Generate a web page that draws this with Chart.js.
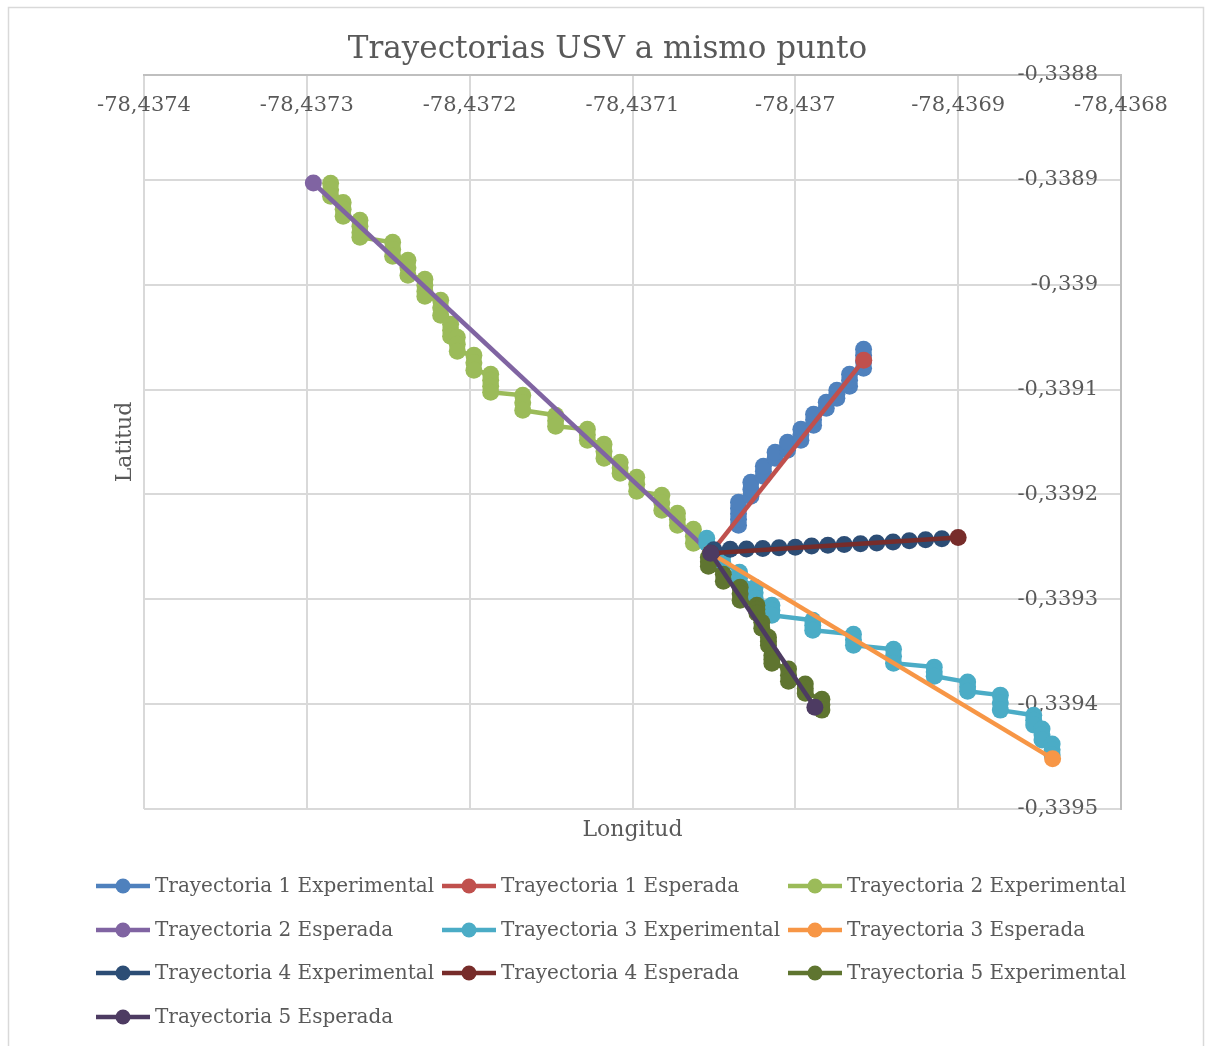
<!DOCTYPE html>
<html>
<head>
<meta charset="utf-8">
<title>Trayectorias USV a mismo punto</title>
<script src="https://cdn.jsdelivr.net/npm/chart.js@4.4.1/dist/chart.umd.min.js"></script>
<style>
  html, body { margin: 0; padding: 0; background: #fff; }
  #wrap { width: 1211px; height: 1046px; }
</style>
</head>
<body>
<div id="wrap"><canvas id="trayectorias" width="1211" height="1046"></canvas></div>
<script>
// Puntos [longitud, latitud] de cada trayectoria
const t1Experimental = [
  [-78.4370349, -0.3392294], [-78.4370349, -0.3392237], [-78.4370349, -0.3392184], [-78.4370349, -0.3392132], [-78.4370349, -0.3392074],
  [-78.4370273, -0.3392017], [-78.4370273, -0.3391951], [-78.4370273, -0.3391884],
  [-78.4370196, -0.3391827], [-78.4370196, -0.3391779], [-78.4370196, -0.3391731],
  [-78.4370124, -0.3391655], [-78.4370124, -0.3391598],
  [-78.4370048, -0.3391579], [-78.4370048, -0.3391541], [-78.4370048, -0.3391502],
  [-78.4369966, -0.3391483], [-78.4369966, -0.3391431], [-78.4369966, -0.3391379],
  [-78.4369888, -0.3391340], [-78.4369888, -0.3391288], [-78.4369888, -0.3391236],
  [-78.4369810, -0.3391178], [-78.4369810, -0.3391121],
  [-78.4369745, -0.3391083], [-78.4369745, -0.3391045], [-78.4369745, -0.3391007],
  [-78.4369667, -0.3390969], [-78.4369667, -0.3390911], [-78.4369667, -0.3390854],
  [-78.4369581, -0.3390797], [-78.4369581, -0.3390735], [-78.4369581, -0.3390673], [-78.4369581, -0.3390616]
];
const t1Esperada = [[-78.437052, -0.339256], [-78.436958, -0.339072]];

const t2Experimental = [
  [-78.4372854, -0.3389033], [-78.4372854, -0.3389095], [-78.4372854, -0.3389157],
  [-78.4372777, -0.3389215], [-78.4372777, -0.3389281], [-78.4372777, -0.3389348],
  [-78.4372674, -0.3389386], [-78.4372674, -0.3389443], [-78.4372674, -0.3389501], [-78.4372674, -0.3389548],
  [-78.4372473, -0.3389596], [-78.4372473, -0.3389663], [-78.4372473, -0.3389729],
  [-78.4372379, -0.3389767], [-78.4372379, -0.3389839], [-78.4372379, -0.3389910],
  [-78.4372275, -0.3389949], [-78.4372275, -0.3390006], [-78.4372275, -0.3390063], [-78.4372275, -0.3390111],
  [-78.4372178, -0.3390149], [-78.4372178, -0.3390220], [-78.4372178, -0.3390292],
  [-78.4372117, -0.3390378], [-78.4372117, -0.3390435], [-78.4372117, -0.3390492],
  [-78.4372076, -0.3390501], [-78.4372076, -0.3390568], [-78.4372076, -0.3390635],
  [-78.4371974, -0.3390673], [-78.4371974, -0.3390745], [-78.4371974, -0.3390816],
  [-78.4371871, -0.3390854], [-78.4371871, -0.3390911], [-78.4371871, -0.3390969], [-78.4371871, -0.3391026],
  [-78.4371674, -0.3391054], [-78.4371674, -0.3391126], [-78.4371674, -0.3391197],
  [-78.4371472, -0.3391245], [-78.4371472, -0.3391298], [-78.4371472, -0.3391350],
  [-78.4371277, -0.3391379], [-78.4371277, -0.3391431], [-78.4371277, -0.3391483],
  [-78.4371175, -0.3391522], [-78.4371175, -0.3391588], [-78.4371175, -0.3391655],
  [-78.4371076, -0.3391693], [-78.4371076, -0.3391746], [-78.4371076, -0.3391798],
  [-78.4370974, -0.3391836], [-78.4370974, -0.3391903], [-78.4370974, -0.3391970],
  [-78.4370820, -0.3392008], [-78.4370820, -0.3392079], [-78.4370820, -0.3392151],
  [-78.4370724, -0.3392179], [-78.4370724, -0.3392237], [-78.4370724, -0.3392294],
  [-78.4370626, -0.3392332], [-78.4370626, -0.3392399], [-78.4370626, -0.3392465]
];
const t2Esperada = [[-78.437296, -0.338903], [-78.437052, -0.339256]];

const t3Experimental = [
  [-78.4370544, -0.3392418], [-78.4370544, -0.3392465],
  [-78.4370446, -0.3392589], [-78.4370446, -0.3392646],
  [-78.4370343, -0.3392742], [-78.4370343, -0.3392799],
  [-78.4370247, -0.3392885], [-78.4370247, -0.3392937], [-78.4370247, -0.3392990],
  [-78.4370144, -0.3393056], [-78.4370144, -0.3393104], [-78.4370144, -0.3393152],
  [-78.4369893, -0.3393199], [-78.4369893, -0.3393247], [-78.4369893, -0.3393295],
  [-78.4369643, -0.3393333], [-78.4369643, -0.3393385], [-78.4369643, -0.3393438],
  [-78.4369397, -0.3393476], [-78.4369397, -0.3393543], [-78.4369397, -0.3393609],
  [-78.4369147, -0.3393647], [-78.4369147, -0.3393690], [-78.4369147, -0.3393733],
  [-78.4368942, -0.3393790], [-78.4368942, -0.3393833], [-78.4368942, -0.3393876],
  [-78.4368741, -0.3393914], [-78.4368741, -0.3393986], [-78.4368741, -0.3394057],
  [-78.4368536, -0.3394105], [-78.4368536, -0.3394153], [-78.4368536, -0.3394200],
  [-78.4368485, -0.3394238], [-78.4368485, -0.3394291], [-78.4368485, -0.3394343],
  [-78.4368423, -0.3394381], [-78.4368423, -0.3394434], [-78.4368423, -0.3394486]
];
const t3Esperada = [[-78.437052, -0.339256], [-78.436842, -0.339452]];

const t4Experimental = [
  [-78.43705, -0.3392527], [-78.43704, -0.3392523], [-78.43703, -0.3392521], [-78.43702, -0.3392515],
  [-78.43701, -0.3392509], [-78.43700, -0.3392503], [-78.43699, -0.3392491], [-78.43698, -0.3392484],
  [-78.43697, -0.3392477], [-78.43696, -0.3392470], [-78.43695, -0.3392463], [-78.43694, -0.3392454],
  [-78.43693, -0.3392441], [-78.43692, -0.3392432], [-78.43691, -0.3392422]
];
const t4Esperada = [[-78.437052, -0.339256], [-78.4369, -0.339241]];

const t5Experimental = [
  [-78.4370534, -0.3392599], [-78.4370534, -0.3392642], [-78.4370534, -0.3392685],
  [-78.4370442, -0.3392761], [-78.4370442, -0.3392828],
  [-78.4370339, -0.3392885], [-78.4370339, -0.3392947], [-78.4370339, -0.3393009],
  [-78.4370236, -0.3393056], [-78.4370236, -0.3393094], [-78.4370236, -0.3393133],
  [-78.4370206, -0.3393218], [-78.4370206, -0.3393276],
  [-78.4370165, -0.3393361], [-78.4370165, -0.3393400], [-78.4370165, -0.3393438],
  [-78.4370144, -0.3393533], [-78.4370144, -0.3393571], [-78.4370144, -0.3393609],
  [-78.4370042, -0.3393666], [-78.4370042, -0.3393724], [-78.4370042, -0.3393781],
  [-78.4369939, -0.3393809], [-78.4369939, -0.3393852], [-78.4369939, -0.3393895],
  [-78.4369837, -0.3393953], [-78.4369837, -0.3394005], [-78.4369837, -0.3394057]
];
const t5Esperada = [[-78.437052, -0.339256], [-78.436988, -0.339403]];

const seriesNames = [
  'Trayectoria 1 Experimental', 'Trayectoria 1 Esperada',
  'Trayectoria 2 Experimental', 'Trayectoria 2 Esperada',
  'Trayectoria 3 Experimental', 'Trayectoria 3 Esperada',
  'Trayectoria 4 Experimental', 'Trayectoria 4 Esperada',
  'Trayectoria 5 Experimental', 'Trayectoria 5 Esperada'
];
const seriesPoints = [
  t1Experimental, t1Esperada, t2Experimental, t2Esperada, t3Experimental,
  t3Esperada, t4Experimental, t4Esperada, t5Experimental, t5Esperada
];
const seriesColors = [
  '#4F81BD', '#C0504D', '#9BBB59', '#8064A2', '#4BACC6',
  '#F79646', '#2C4D75', '#772C2A', '#5F7530', '#4D3B62'
];

const lonRange = [-78.4374, -78.4368];
const latRange = [-0.3395, -0.3388];
const gridStep = 0.0001;

const chartTitle = 'Trayectorias USV a mismo punto';
const xTitle = 'Longitud';
const yTitle = 'Latitud';

const textColor = '#595959';
const fontFamily = '"DejaVu Serif", "Liberation Serif", serif';

// coma decimal, como en la hoja de cálculo
function formatTick(v) {
  return String(parseFloat(v.toFixed(4))).replace('.', ',');
}

const decorations = {
  id: 'decorations',
  beforeDraw(chart) {
    const ctx = chart.ctx;
    ctx.save();
    ctx.fillStyle = '#ffffff';
    ctx.fillRect(0, 0, chart.width, chart.height);
    ctx.strokeStyle = '#d9d9d9';
    ctx.lineWidth = 1.5;
    ctx.strokeRect(8.5, 7.5, 1195, 1060);
    ctx.restore();
  },
  beforeDatasetsDraw(chart) {
    const ctx = chart.ctx;
    const { x, y } = chart.scales;
    ctx.save();
    ctx.fillStyle = textColor;
    ctx.font = '21px ' + fontFamily;
    ctx.textAlign = 'center';
    ctx.textBaseline = 'middle';
    x.ticks.forEach(t => {
      ctx.fillText(formatTick(t.value), x.getPixelForValue(t.value), chart.chartArea.top + 31);
    });
    ctx.textAlign = 'right';
    y.ticks.forEach(t => {
      ctx.fillText(formatTick(t.value), chart.chartArea.right - 23, y.getPixelForValue(t.value));
    });
    ctx.restore();
  },
  afterDraw(chart) {
    const ctx = chart.ctx;
    const area = chart.chartArea;
    ctx.save();
    ctx.fillStyle = textColor;
    ctx.textBaseline = 'middle';
    ctx.textAlign = 'center';

    ctx.font = '31px ' + fontFamily;
    ctx.fillText(chartTitle, (area.left + area.right) / 2 - 25, 50);

    ctx.font = '22px ' + fontFamily;
    ctx.fillText(xTitle, (area.left + area.right) / 2, 830);
    ctx.save();
    ctx.translate(125, (area.top + area.bottom) / 2);
    ctx.rotate(-Math.PI / 2);
    ctx.fillText(yTitle, 0, 0);
    ctx.restore();

    // leyenda en tres columnas
    const colX = [96, 442, 788];
    const rowY = [886, 930, 973, 1017];
    ctx.font = '20px ' + fontFamily;
    ctx.textAlign = 'left';
    chart.data.datasets.forEach((ds, i) => {
      const lx = colX[i % 3];
      const ly = rowY[Math.floor(i / 3)];
      ctx.strokeStyle = ds.borderColor;
      ctx.lineWidth = 4.5;
      ctx.beginPath();
      ctx.moveTo(lx, ly);
      ctx.lineTo(lx + 54, ly);
      ctx.stroke();
      ctx.fillStyle = ds.backgroundColor;
      ctx.beginPath();
      ctx.arc(lx + 27, ly, 7.5, 0, Math.PI * 2);
      ctx.fill();
      ctx.fillStyle = textColor;
      ctx.fillText(ds.label, lx + 59, ly + 1);
    });
    ctx.restore();
  }
};

const datasets = seriesPoints.map((pts, i) => ({
  label: seriesNames[i],
  data: pts.map(([lon, lat]) => ({ x: lon, y: lat })),
  showLine: true,
  borderColor: seriesColors[i],
  backgroundColor: seriesColors[i],
  borderWidth: 4.5,
  pointRadius: 8.5,
  pointHoverRadius: 8.5,
  pointBorderWidth: 0,
  order: seriesPoints.length - i,
  clip: false
}));

new Chart(document.getElementById('trayectorias'), {
  type: 'scatter',
  data: { datasets },
  options: {
    responsive: false,
    animation: false,
    events: [],
    layout: { padding: { left: 144, right: 90, top: 75, bottom: 237 } },
    plugins: {
      legend: { display: false },
      title: { display: false },
      tooltip: { enabled: false }
    },
    scales: {
      x: {
        type: 'linear',
        position: 'top',
        min: lonRange[0],
        max: lonRange[1],
        ticks: { stepSize: gridStep, display: false },
        grid: { color: '#d9d9d9', lineWidth: 2, drawTicks: false },
        border: { color: '#bfbfbf', width: 2 }
      },
      y: {
        type: 'linear',
        position: 'right',
        min: latRange[0],
        max: latRange[1],
        ticks: { stepSize: gridStep, display: false },
        grid: { color: '#d9d9d9', lineWidth: 2, drawTicks: false },
        border: { color: '#bfbfbf', width: 2 }
      }
    }
  },
  plugins: [decorations]
});
</script>
</body>
</html>
